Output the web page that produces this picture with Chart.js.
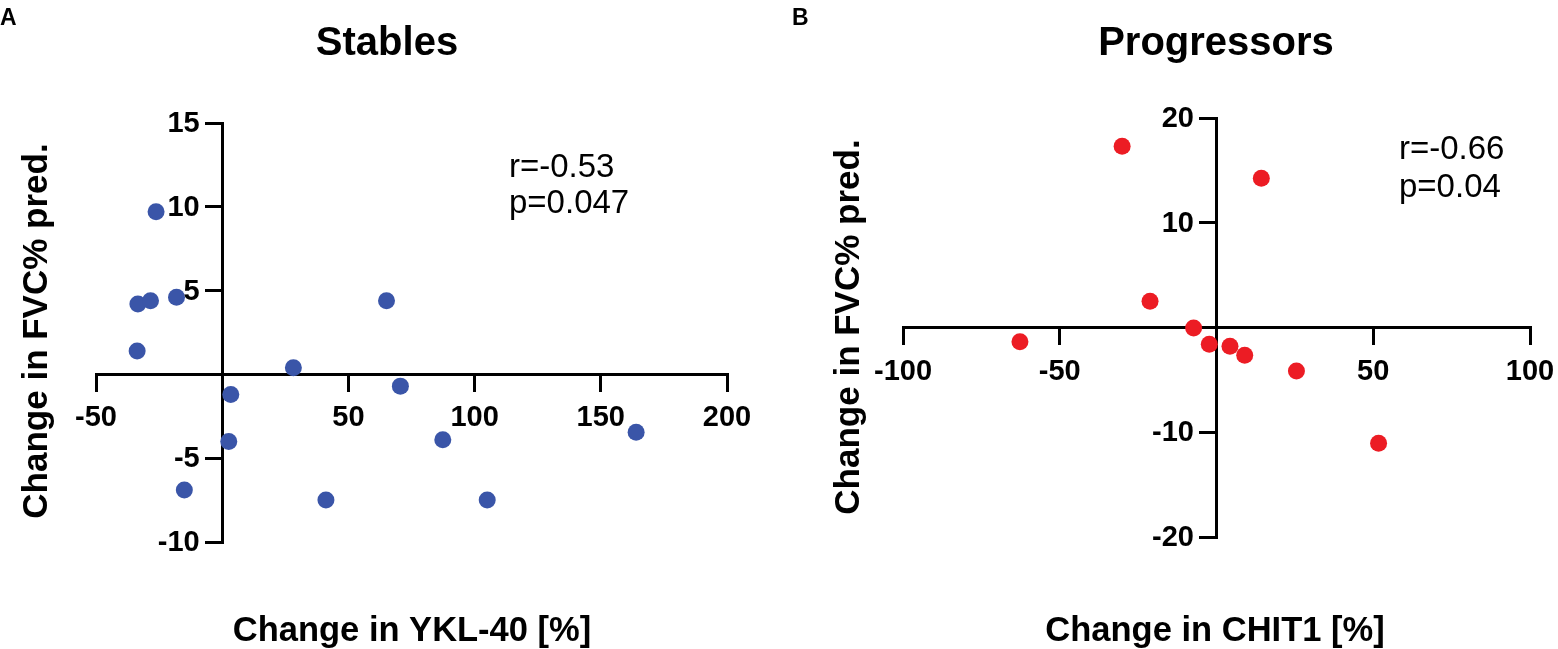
<!DOCTYPE html>
<html>
<head>
<meta charset="utf-8">
<script src="https://cdn.jsdelivr.net/npm/chart.js@4.4.1/dist/chart.umd.min.js"></script>
<style>
  html, body { margin: 0; padding: 0; background: #fff; }
  #wrap { position: relative; width: 1558px; height: 649px; }
  canvas { position: absolute; top: 0; }
  #left { left: 0; }
  #right { left: 779px; }
</style>
</head>
<body>
<div id="wrap">
  <canvas id="left" width="779" height="649"></canvas>
  <canvas id="right" width="779" height="649"></canvas>
</div>
<script>
// Stables: change in YKL-40 [%] vs change in FVC% pred.
var stablesX = [-26.2, -33.4, -28.4, -18.1, -33.7, 65.1, 28.2, 70.6, 3.4, 2.6, -15.0, 41.1, 87.4, 105.0, 164.0];
var stablesY = [9.7, 4.2, 4.4, 4.6, 1.4, 4.4, 0.4, -0.7, -1.2, -4.0, -6.9, -7.5, -3.9, -7.5, -3.45];
var stablesXTicks = [-50, 0, 50, 100, 150, 200];
var stablesYTicks = [-10, -5, 0, 5, 10, 15];

// Progressors: change in CHIT1 [%] vs change in FVC% pred.
var progX = [-30.1, 14.3, -21.2, -7.3, -62.7, -2.3, 4.3, 9.0, 25.5, 51.7];
var progY = [17.3, 14.25, 2.5, -0.05, -1.35, -1.6, -1.8, -2.65, -4.15, -11.05];
var progXTicks = [-100, -50, 0, 50, 100];
var progYTicks = [-20, -10, 0, 10, 20];

var FONT = "'Liberation Sans', Arial, sans-serif";
var TICKLEN = 16;

function toPoints(xs, ys) {
    return xs.map(function(x, i) { return {x: x, y: ys[i]}; });
}

function tickText(v) {
    return v === 0 ? '' : String(v);
}

// tick labels next to the crossing axes, panel letter, titles and the r/p note
function textPlugin(items) {
    return {
        id: 'panelText',
        afterDraw: function(chart) {
            var ctx = chart.ctx;
            var xs = chart.scales.x, ys = chart.scales.y;
            var axisX = xs.getPixelForValue(0);
            var axisY = ys.getPixelForValue(0);
            ctx.save();
            ctx.fillStyle = '#000';
            ctx.font = 'bold 29px ' + FONT;
            ctx.textBaseline = 'middle';
            ctx.textAlign = 'right';
            ys.ticks.forEach(function(t) {
                ctx.fillText(tickText(t.value), axisX - 1.5 - TICKLEN - 5, ys.getPixelForValue(t.value) + 1);
            });
            ctx.textAlign = 'center';
            xs.ticks.forEach(function(t) {
                ctx.fillText(tickText(t.value), xs.getPixelForValue(t.value), axisY + 44);
            });
            ctx.restore();

            items.forEach(function(t) {
                ctx.save();
                ctx.fillStyle = '#000';
                ctx.font = (t.bold ? 'bold ' : '') + t.size + 'px ' + FONT;
                ctx.textAlign = t.align || 'left';
                ctx.textBaseline = 'alphabetic';
                ctx.translate(t.x, t.y);
                if (t.rotate) ctx.rotate(-Math.PI / 2);
                ctx.fillText(t.text, 0, 0);
                ctx.restore();
            });
        }
    };
}

function axis(min, max, ticks, pos) {
    return {
        type: 'linear',
        min: min,
        max: max,
        position: pos,
        afterBuildTicks: function(scale) {
            scale.ticks = ticks.map(function(v) { return {value: v}; });
        },
        ticks: {display: false},
        grid: {
            display: true,
            drawOnChartArea: false,
            drawTicks: true,
            tickLength: TICKLEN,
            lineWidth: 3,
            color: '#000'
        },
        border: {display: true, color: '#000', width: 3}
    };
}

function makeChart(id, xs, ys, color, xr, yr, pad, items) {
    return new Chart(document.getElementById(id), {
        type: 'scatter',
        data: {
            datasets: [{
                data: toPoints(xs, ys),
                backgroundColor: color,
                borderWidth: 0,
                pointRadius: 8.5,
                pointHoverRadius: 8.5
            }]
        },
        options: {
            responsive: false,
            animation: false,
            devicePixelRatio: 1,
            layout: {padding: pad},
            plugins: {legend: {display: false}, tooltip: {enabled: false}},
            scales: {
                x: axis(xr[0], xr[1], xr[2], {y: 0}),
                y: axis(yr[0], yr[1], yr[2], {x: 0})
            }
        },
        plugins: [textPlugin(items)]
    });
}

makeChart('left', stablesX, stablesY, '#3a55a8',
    [-50, 200, stablesXTicks], [-10, 15, stablesYTicks],
    {left: 96, right: 52, top: 123, bottom: 107},
    [
        {text: 'A', x: 0, y: 25, size: 23, bold: true},
        {text: 'Stables', x: 387, y: 55, size: 40, bold: true, align: 'center'},
        {text: 'Change in FVC% pred.', x: 47, y: 331, size: 35, bold: true, align: 'center', rotate: true},
        {text: 'Change in YKL-40 [%]', x: 412, y: 641, size: 34.5, bold: true, align: 'center'},
        {text: 'r=-0.53', x: 509, y: 177, size: 33},
        {text: 'p=0.047', x: 509, y: 213, size: 33}
    ]);

makeChart('right', progX, progY, '#ec1c24',
    [-100, 100, progXTicks], [-20, 20, progYTicks],
    {left: 124, right: 28, top: 118, bottom: 112},
    [
        {text: 'B', x: 13, y: 25, size: 23, bold: true},
        {text: 'Progressors', x: 437, y: 55, size: 40, bold: true, align: 'center'},
        {text: 'Change in FVC% pred.', x: 80, y: 327, size: 35, bold: true, align: 'center', rotate: true},
        {text: 'Change in CHIT1 [%]', x: 436, y: 641, size: 34.5, bold: true, align: 'center'},
        {text: 'r=-0.66', x: 620, y: 159, size: 33},
        {text: 'p=0.04', x: 620, y: 197, size: 33}
    ]);
</script>
</body>
</html>
